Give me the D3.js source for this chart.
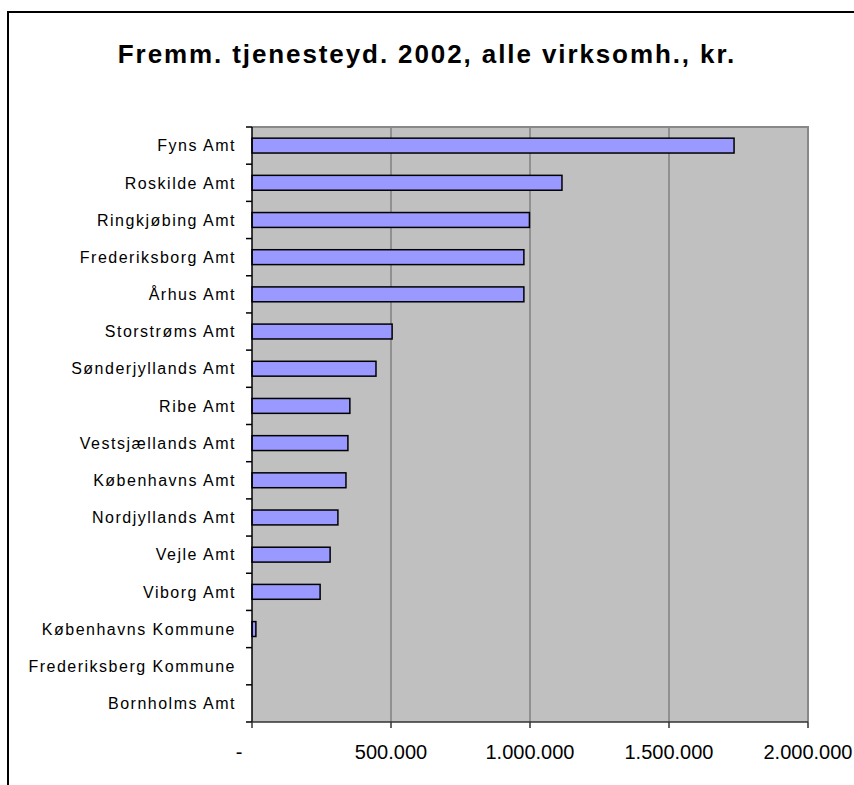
<!DOCTYPE html>
<html>
<head>
<meta charset="utf-8">
<script src="https://cdn.jsdelivr.net/npm/d3@7"></script>
<style>
  html, body { margin: 0; padding: 0; background: #fff; }
  svg { display: block; font-family: "Liberation Sans", Arial, sans-serif; }
</style>
</head>
<body>
<svg id="chart" width="854" height="785"></svg>
<script>
// Counties, top to bottom
const categories = [
  "Fyns Amt", "Roskilde Amt", "Ringkjøbing Amt", "Frederiksborg Amt", "Århus Amt",
  "Storstrøms Amt", "Sønderjyllands Amt", "Ribe Amt", "Vestsjællands Amt",
  "Københavns Amt", "Nordjyllands Amt", "Vejle Amt", "Viborg Amt",
  "Københavns Kommune", "Frederiksberg Kommune", "Bornholms Amt"
];
// Amount in kr. per county
const values = [
  1734000, 1115000, 998000, 978000, 978000,
  504000, 446000, 352000, 345000,
  338000, 309000, 281000, 245000,
  14000, 0, 0
];
const tickValues = [0, 500000, 1000000, 1500000, 2000000];
const tickLabels = ["-", "500.000", "1.000.000", "1.500.000", "2.000.000"];
const title = "Fremm. tjenesteyd. 2002, alle virksomh., kr.";

const svg = d3.select("#chart");
const plot = { left: 252, right: 808, top: 127, bottom: 722 };

// Outer chart frame
svg.append("rect")
  .attr("x", 8).attr("y", 12)
  .attr("width", 900).attr("height", 900)
  .attr("fill", "none").attr("stroke", "#000").attr("stroke-width", 2);

svg.append("text")
  .attr("x", 427).attr("y", 63)
  .attr("text-anchor", "middle")
  .attr("font-size", 26).attr("font-weight", "bold")
  .attr("letter-spacing", 1.9)
  .text(title);

const x = d3.scaleLinear().domain([0, 2000000]).range([plot.left, plot.right]);
const y = d3.scaleBand().domain(categories)
  .range([plot.top, plot.bottom]).paddingInner(0.6).paddingOuter(0.3);

// Plot area background
svg.append("rect")
  .attr("x", plot.left).attr("y", plot.top)
  .attr("width", plot.right - plot.left).attr("height", plot.bottom - plot.top)
  .attr("fill", "#c0c0c0");

// Vertical gridlines
svg.append("g").selectAll("line")
  .data(tickValues.slice(1, -1))
  .join("line")
  .attr("x1", d => x(d)).attr("x2", d => x(d))
  .attr("y1", plot.top).attr("y2", plot.bottom)
  .attr("stroke", "#606060").attr("stroke-width", 1);

// Plot border (top and right)
svg.append("path")
  .attr("d", `M${plot.left},${plot.top}H${plot.right}V${plot.bottom}`)
  .attr("fill", "none").attr("stroke", "#888").attr("stroke-width", 2);

// Bars
svg.append("g").selectAll("rect")
  .data(categories.map((c, i) => ({ c, v: values[i] })).filter(d => d.v > 0))
  .join("rect")
  .attr("x", x(0))
  .attr("y", d => y(d.c))
  .attr("width", d => x(d.v) - x(0))
  .attr("height", y.bandwidth())
  .attr("fill", "#9999ff")
  .attr("stroke", "#000").attr("stroke-width", 1.5);

// Category axis
const yBounds = d3.range(categories.length + 1).map(i => plot.top + i * y.step());
const ya = svg.append("g");
ya.append("line")
  .attr("x1", plot.left).attr("x2", plot.left)
  .attr("y1", plot.top).attr("y2", plot.bottom)
  .attr("stroke", "#000").attr("stroke-width", 1.5);
ya.selectAll("line.t").data(yBounds).join("line").attr("class", "t")
  .attr("x1", plot.left - 6).attr("x2", plot.left)
  .attr("y1", d => d).attr("y2", d => d)
  .attr("stroke", "#000").attr("stroke-width", 1.5);
ya.selectAll("text").data(categories).join("text")
  .attr("x", 236)
  .attr("y", d => y(d) + y.bandwidth() / 2)
  .attr("dy", "0.36em")
  .attr("text-anchor", "end")
  .attr("font-size", 16)
  .attr("letter-spacing", 1.5)
  .text(d => d);

// Value axis
const xa = svg.append("g");
xa.append("line")
  .attr("x1", plot.left).attr("x2", plot.right)
  .attr("y1", plot.bottom).attr("y2", plot.bottom)
  .attr("stroke", "#333").attr("stroke-width", 1.5);
xa.selectAll("line.t").data(tickValues).join("line").attr("class", "t")
  .attr("x1", d => x(d)).attr("x2", d => x(d))
  .attr("y1", plot.bottom).attr("y2", plot.bottom + 6)
  .attr("stroke", "#333").attr("stroke-width", 1.5);
xa.selectAll("text").data(tickValues).join("text")
  .attr("x", (d, i) => x(d) - (i === 0 ? 13 : 0))
  .attr("y", 759)
  .attr("text-anchor", "middle")
  .attr("font-size", 20)
  .text((d, i) => tickLabels[i]);
</script>
</body>
</html>
